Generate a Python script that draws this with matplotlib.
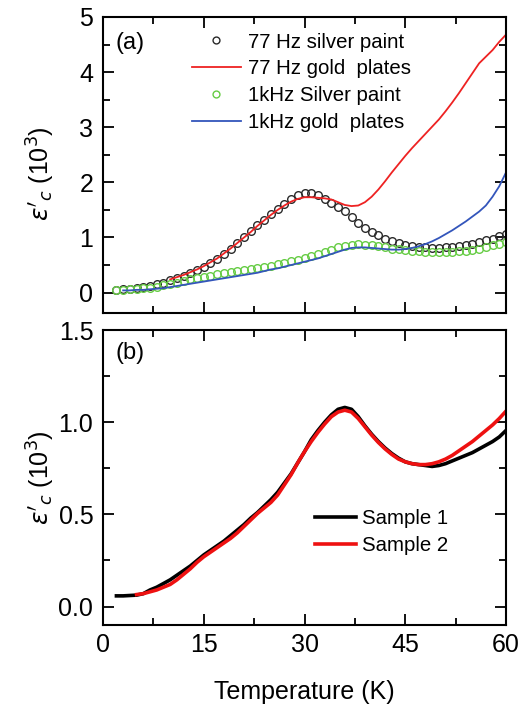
import matplotlib
matplotlib.use("Agg")
import matplotlib.pyplot as plt
from matplotlib.ticker import MultipleLocator

plt.rcParams['font.family'] = ['Liberation Sans', 'DejaVu Sans']
plt.rcParams['mathtext.fontset'] = 'dejavusans'

# ---- Panel (a) data ----
T_ag77 = list(range(2, 61))
e_ag77 = [0.05, 0.06, 0.07, 0.08, 0.10, 0.12, 0.15, 0.18, 0.22, 0.27, 0.31, 0.36, 0.41, 0.47,
          0.54, 0.61, 0.70, 0.80, 0.90, 1.00, 1.11, 1.22, 1.32, 1.42, 1.52, 1.61, 1.70, 1.77,
          1.81, 1.81, 1.77, 1.70, 1.63, 1.56, 1.48, 1.38, 1.26, 1.17, 1.10, 1.04, 0.98, 0.93,
          0.90, 0.87, 0.85, 0.83, 0.82, 0.81, 0.81, 0.82, 0.83, 0.85, 0.87, 0.89, 0.92, 0.95,
          0.98, 1.02, 1.06]

T_au77 = list(range(10, 61))
e_au77 = [0.24, 0.28, 0.32, 0.37, 0.42, 0.48, 0.55, 0.62, 0.71, 0.80, 0.90, 1.00, 1.10, 1.21,
          1.31, 1.41, 1.50, 1.58, 1.65, 1.70, 1.73, 1.73, 1.72, 1.71, 1.69, 1.64, 1.59, 1.57,
          1.58, 1.64, 1.74, 1.87, 2.02, 2.18, 2.33, 2.48, 2.62, 2.75, 2.88, 3.01, 3.14, 3.29,
          3.45, 3.62, 3.80, 3.98, 4.16, 4.28, 4.40, 4.55, 4.68]

T_ag1k = list(range(2, 61))
e_ag1k = [0.04, 0.05, 0.06, 0.07, 0.08, 0.09, 0.11, 0.13, 0.15, 0.18, 0.21, 0.24, 0.27, 0.29,
          0.31, 0.33, 0.35, 0.37, 0.39, 0.41, 0.43, 0.45, 0.47, 0.49, 0.51, 0.54, 0.57, 0.60,
          0.63, 0.66, 0.70, 0.74, 0.78, 0.82, 0.85, 0.87, 0.88, 0.87, 0.86, 0.84, 0.82, 0.80,
          0.79, 0.78, 0.76, 0.75, 0.74, 0.73, 0.73, 0.73, 0.74, 0.75, 0.76, 0.78, 0.80, 0.83,
          0.86, 0.89, 0.92]

T_au1k = list(range(3, 61))
e_au1k = [0.04, 0.04, 0.05, 0.05, 0.06, 0.07, 0.08, 0.10, 0.12, 0.14, 0.16, 0.18, 0.20, 0.22,
          0.24, 0.26, 0.28, 0.30, 0.32, 0.34, 0.36, 0.39, 0.42, 0.44, 0.47, 0.50, 0.53, 0.56,
          0.59, 0.62, 0.66, 0.70, 0.74, 0.78, 0.81, 0.82, 0.82, 0.81, 0.80, 0.79, 0.78, 0.78,
          0.79, 0.81, 0.84, 0.88, 0.93, 0.99, 1.06, 1.13, 1.21, 1.29, 1.38, 1.47, 1.58, 1.74,
          1.93, 2.18]

# ---- Panel (b) data ----
T_s1 = list(range(2, 61))
e_s1 = [0.058, 0.058, 0.06, 0.062, 0.07, 0.09, 0.105, 0.125, 0.145, 0.17, 0.195, 0.22, 0.25,
        0.28, 0.305, 0.33, 0.355, 0.385, 0.415, 0.445, 0.48, 0.51, 0.545, 0.58, 0.62, 0.67,
        0.72, 0.78, 0.84, 0.905, 0.955, 1.0, 1.04, 1.07, 1.08, 1.07, 1.03, 0.98, 0.935, 0.895,
        0.86, 0.83, 0.805, 0.785, 0.775, 0.77, 0.765, 0.76, 0.765, 0.775, 0.79, 0.805, 0.82,
        0.835, 0.855, 0.875, 0.895, 0.92, 0.955]

T_s2 = list(range(5, 61))
e_s2 = [0.065, 0.07, 0.08, 0.09, 0.105, 0.12, 0.145, 0.175, 0.205, 0.24, 0.27, 0.295, 0.32,
        0.345, 0.37, 0.4, 0.435, 0.47, 0.505, 0.535, 0.565, 0.605, 0.66, 0.715, 0.78, 0.84,
        0.895, 0.945, 0.99, 1.03, 1.055, 1.065, 1.055, 1.02, 0.975, 0.93, 0.89, 0.855, 0.825,
        0.80, 0.785, 0.775, 0.77, 0.77, 0.775, 0.785, 0.80, 0.82, 0.845, 0.87, 0.895, 0.925,
        0.955, 0.985, 1.02, 1.06]

xticks = [0, 15, 30, 45, 60]
ylabel = r"$\varepsilon'_{c}$ (10$^{3}$)"

fig = plt.figure(figsize=(5.19, 7.07), dpi=100)
W, H = 519, 707
axa = fig.add_axes([103 / W, 1 - 313 / H, 403 / W, 296 / H])
axb = fig.add_axes([103 / W, 1 - 625 / H, 403 / W, 295 / H])

for ax in (axa, axb):
    ax.set_xlim(0, 60)
    ax.xaxis.set_major_locator(MultipleLocator(15))
    ax.xaxis.set_minor_locator(MultipleLocator(7.5))
    ax.tick_params(which='both', direction='in', top=True, right=True, labelsize=18, width=1.3)
    ax.tick_params(which='major', length=8)
    ax.tick_params(which='minor', length=5)
    ax.tick_params(axis='y', pad=7)
    ax.tick_params(axis='x', pad=5.5)
    for s in ax.spines.values():
        s.set_linewidth(1.5)
    ax.set_ylabel(ylabel, fontsize=18)

axa.yaxis.set_label_coords(-0.115, 0.47)
axb.yaxis.set_label_coords(-0.115, 0.5)

# Panel (a)
axa.plot(T_ag77, e_ag77, linestyle='none', marker='o', markersize=5.5, markerfacecolor='none',
         markeredgecolor='#2a2a2a', markeredgewidth=1.0, label='77 Hz silver paint')
axa.plot(T_au77, e_au77, color='#ee2222', lw=1.3, label='77 Hz gold  plates')
axa.plot(T_ag1k, e_ag1k, linestyle='none', marker='o', markersize=5.5, markerfacecolor='none',
         markeredgecolor='#66cc44', markeredgewidth=1.0, label='1kHz Silver paint')
axa.plot(T_au1k, e_au1k, color='#3355bb', lw=1.3, label='1kHz gold  plates')
axa.set_ylim(-0.37, 5)
axa.yaxis.set_major_locator(MultipleLocator(1))
axa.yaxis.set_minor_locator(MultipleLocator(0.5))
axa.tick_params(labelbottom=False)
axa.text(0.03, 0.912, '(a)', transform=axa.transAxes, fontsize=17, va='center')
axa.legend(loc='upper left', bbox_to_anchor=(0.2, 0.975), fontsize=14.7, frameon=False,
           handlelength=2.4, handletextpad=0.35, labelspacing=0.38, borderaxespad=0.0,
           markerscale=0.9)

# Panel (b)
axb.plot(T_s1, e_s1, color='black', lw=2.6, label='Sample 1')
axb.plot(T_s2, e_s2, color='#ee1111', lw=2.6, label='Sample 2')
axb.set_ylim(-0.1, 1.5)
axb.yaxis.set_major_locator(MultipleLocator(0.5))
axb.yaxis.set_minor_locator(MultipleLocator(0.25))
axb.yaxis.set_major_formatter(plt.FormatStrFormatter('%.1f'))
axb.set_xticks(xticks)
axb.text(0.03, 0.922, '(b)', transform=axb.transAxes, fontsize=17, va='center')
axb.legend(loc='center left', bbox_to_anchor=(0.48, 0.315), fontsize=14.7, frameon=False,
           handlelength=2.0, handletextpad=0.3, labelspacing=0.4)
axb.set_xlabel('Temperature (K)', fontsize=18, labelpad=17)

fig.savefig('out.png', dpi=100)
